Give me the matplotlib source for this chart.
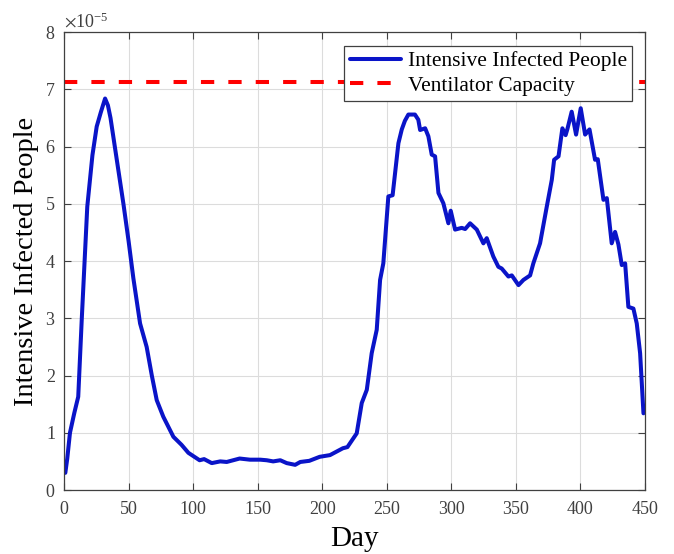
import numpy as np
import matplotlib
matplotlib.use("Agg")
import matplotlib.pyplot as plt
from matplotlib.ticker import ScalarFormatter

# values (units of 1e-5)
days = [1, 2.5, 4.6, 8, 11, 13.7, 18, 22, 25.3, 28.5, 31.8, 34, 36, 41, 46, 50,
        53.7, 58.9, 64, 68, 71.8, 76.9, 84.7, 91, 96.3, 105, 108.5, 114.4, 121,
        126, 131, 136, 144, 152, 157, 162, 167.5, 172.5, 179, 183, 190, 198, 206,
        216, 219.5, 226.7, 230.6, 234.5, 238.3, 242.2, 244.8, 247.3, 251.2, 254.5,
        259, 261.6, 264, 266.7, 271.8, 274.4, 275.8, 279.7, 282.2, 284.8, 287.4,
        290, 293.8, 297.7, 299.5, 302.9, 308, 310.7, 314.5, 319.7, 324.8, 327.4,
        332.5, 336.4, 339, 344.2, 346.8, 352, 355.8, 361, 363.5, 368.7, 373.9,
        377.8, 379.6, 383, 386, 388.5, 389.8, 393.2, 396.6, 400.2, 403.6, 407,
        411.3, 413.4, 417.8, 420.4, 424.2, 426.8, 429.4, 432, 434.6, 437.1, 441,
        443.6, 446.2, 448.8]
infected = [0.30, 0.55, 1.0, 1.35, 1.63, 2.97, 4.95, 5.85, 6.35, 6.6, 6.84, 6.72,
            6.5, 5.75, 5.0, 4.35, 3.70, 2.91, 2.5, 2.0, 1.57, 1.28, 0.93, 0.79,
            0.65, 0.52, 0.54, 0.47, 0.50, 0.49, 0.52, 0.55, 0.53, 0.53, 0.52, 0.50,
            0.52, 0.47, 0.44, 0.49, 0.51, 0.58, 0.61, 0.73, 0.75, 0.99, 1.52, 1.75,
            2.39, 2.8, 3.67, 3.96, 5.13, 5.15, 6.06, 6.3, 6.45, 6.56, 6.56, 6.47,
            6.29, 6.32, 6.18, 5.86, 5.83, 5.19, 5.01, 4.66, 4.88, 4.55, 4.58, 4.56,
            4.66, 4.55, 4.31, 4.4, 4.08, 3.9, 3.87, 3.73, 3.75, 3.58, 3.67, 3.75,
            3.96, 4.31, 4.95, 5.42, 5.77, 5.83, 6.32, 6.2, 6.3, 6.61, 6.21, 6.67,
            6.21, 6.3, 5.77, 5.78, 5.07, 5.1, 4.31, 4.51, 4.29, 3.93, 3.96, 3.2,
            3.17, 2.91, 2.39, 1.34]
capacity = 7.13
scale = 1e-5

plt.rcParams["font.family"] = ["Liberation Serif", "DejaVu Serif"]
plt.rcParams["mathtext.fontset"] = "stix"

fig = plt.figure(figsize=(6.74, 5.54), dpi=100)
ax = fig.add_axes([0.095, 0.1155, 0.862, 0.8265])

ax.plot(days, np.array(infected) * scale, color="#0a14c8", lw=2.9,
        label="Intensive Infected People", solid_joinstyle="round",
        solid_capstyle="round")
ax.axhline(capacity * scale, color="red", lw=2.9, ls=(0, (3.3, 3.5)),
           label="Ventilator Capacity")

ax.set_xlim(0, 450)
ax.set_ylim(0, 8e-5)
ax.set_xticks(np.arange(0, 451, 50))
ax.set_yticks(np.arange(0, 8.01e-5, 1e-5))
fmt = ScalarFormatter(useMathText=True)
fmt.set_powerlimits((0, 0))
ax.yaxis.set_major_formatter(fmt)
ax.yaxis.get_offset_text().set_fontsize(13)
ax.yaxis.get_offset_text().set_color("#404040")

ax.grid(True, color="#dcdcdc", lw=0.8)
ax.tick_params(direction="in", top=True, right=True, labelsize=13,
               colors="#404040", length=5, width=0.8)
ax.tick_params(axis="y", pad=6)
ax.tick_params(axis="x", pad=8)
for s in ax.spines.values():
    s.set_color("#404040")
    s.set_linewidth(0.9)

ax.set_xlabel("Day", fontsize=21, labelpad=6)
ax.set_ylabel("Intensive Infected People", fontsize=20.5, labelpad=4)

leg = ax.legend(loc="upper right", fontsize=15.5, fancybox=False,
                edgecolor="#404040", framealpha=1, handlelength=2.4,
                borderpad=0.25, labelspacing=0.2, handletextpad=0.3,
                borderaxespad=0, bbox_to_anchor=(0.978, 0.97))
leg.get_frame().set_linewidth(0.9)

fig.savefig("out.png", dpi=100)
